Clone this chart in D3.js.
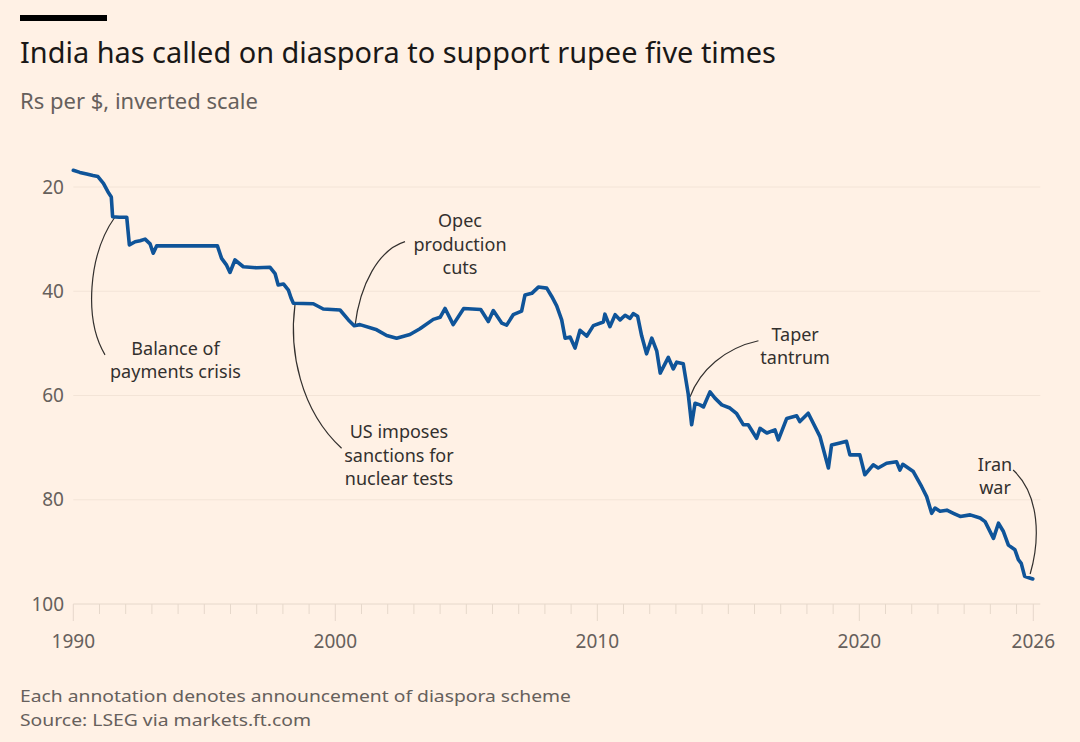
<!DOCTYPE html>
<html><head><meta charset="utf-8">
<script src="https://cdn.jsdelivr.net/npm/d3@7"></script>
<style>body{margin:0;background:#fff1e5;} svg{display:block}</style>
</head><body>
<svg id="chart" width="1080" height="742"></svg>
<script>
// ---- text ----
const title = "India has called on diaspora to support rupee five times";
const subtitle = "Rs per $, inverted scale";
const note = "Each annotation denotes announcement of diaspora scheme";
const source = "Source: LSEG via markets.ft.com";

// ---- series (decimal year, Rs per $) ----
const dates = [
 1990.00,1990.25,1990.51,1990.75,1990.94,1991.15,1991.32,1991.45,1991.50,1991.75,
 1992.04,1992.14,1992.36,1992.55,1992.74,1992.93,1993.05,1993.18,1995.50,1995.66,
 1995.85,1995.98,1996.17,1996.49,1997.00,1997.51,1997.70,1997.82,1998.02,1998.21,
 1998.32,1998.40,1999.16,1999.54,2000.18,2000.50,2000.72,2000.94,2001.58,2001.96,
 2002.34,2002.85,2003.23,2003.74,2004.00,2004.19,2004.50,2004.90,2005.55,2005.84,
 2006.03,2006.35,2006.54,2006.79,2007.11,2007.24,2007.50,2007.75,2008.07,2008.26,
 2008.45,2008.64,2008.77,2008.96,2009.15,2009.34,2009.60,2009.85,2010.23,2010.29,
 2010.48,2010.68,2010.87,2011.06,2011.25,2011.37,2011.54,2011.69,2011.88,2012.08,
 2012.27,2012.40,2012.71,2012.90,2013.03,2013.28,2013.47,2013.60,2013.73,2013.92,
 2014.05,2014.30,2014.49,2014.75,2015.06,2015.32,2015.57,2015.76,2016.08,2016.21,
 2016.47,2016.78,2016.91,2017.23,2017.61,2017.73,2018.05,2018.50,2018.82,2018.94,
 2019.26,2019.51,2019.64,2020.02,2020.21,2020.53,2020.72,2021.04,2021.42,2021.55,
 2021.66,2022.06,2022.38,2022.57,2022.76,2022.89,2023.08,2023.34,2023.59,2023.85,
 2024.23,2024.61,2024.80,2025.12,2025.31,2025.50,2025.69,2025.94,2026.07,2026.18,
 2026.31,2026.50,2026.62
];
const rates = [
 16.8,17.2,17.5,17.8,18.0,19.3,20.9,21.9,25.7,25.8,
 25.8,31.1,30.5,30.3,30.0,30.9,32.7,31.3,31.3,33.7,
 35.0,36.4,34.0,35.3,35.5,35.4,36.6,38.8,38.6,39.8,
 41.4,42.3,42.4,43.4,43.6,45.5,46.6,46.4,47.4,48.5,
 49.0,48.3,47.2,45.4,45.0,43.3,46.4,43.3,43.5,45.8,
 43.7,46.1,46.5,44.5,43.8,40.7,40.4,39.2,39.4,41.0,
 42.8,45.5,49.0,48.8,50.9,47.5,48.6,46.6,45.9,44.4,
 46.8,44.5,45.5,44.6,45.2,44.3,44.8,48.5,52.0,49.0,
 51.5,55.7,52.7,54.9,53.6,53.9,59.7,65.6,61.5,61.8,
 62.2,59.3,60.5,61.8,62.4,63.5,65.6,65.6,68.2,66.3,
 67.2,66.6,68.5,64.4,63.9,65.0,63.4,67.9,73.9,69.5,
 69.1,68.8,71.4,71.4,75.2,73.3,73.9,73.0,72.7,74.3,
 73.2,74.6,77.5,79.4,82.6,81.6,82.2,82.0,82.6,83.2,
 82.9,83.5,84.2,87.4,84.5,86.1,88.7,89.6,91.5,92.2,
 94.7,95.0,95.2
];

// ---- axes ----
const yTicks = [20, 40, 60, 80, 100];
const xMinorYears = d3.range(1990, 2027);
const xLabelYears = [1990, 2000, 2010, 2020];
const xEndLabel = "2026";
const xDomain = [1990, 2026.64];
const yDomain = [20, 100];

// ---- annotations (data units) ----
const annotations = [
  {lines:["Balance of","payments crisis"], text:[1993.9, 52.2],
   path:[[1991.59,25.76],[1990.56,33.05],[1990.41,45.52],[1991.21,52.2]]},
  {lines:["US imposes","sanctions for","nuclear tests"], text:[2002.43, 68.2],
   path:[[1998.46,42.64],[1998.23,51.27],[1998.65,62.78],[2000.24,70.13]]},
  {lines:["Opec","production","cuts"], text:[2004.76, 27.73],
   path:[[2000.75,46.67],[2000.94,38.8],[2001.63,32.09],[2002.66,30.49]]},
  {lines:["Taper","tantrum"], text:[2017.55, 49.49],
   path:[[2013.54,60.23],[2013.92,55.11],[2014.87,50.89],[2016.15,49.49]]},
  {lines:["Iran","war"], text:[2025.18, 74.43],
   path:[[2026.52,94.25],[2026.90,87.72],[2026.90,79.09],[2025.87,74.29]]}
];

// ---- drawing ----
const font = "'Noto Sans', 'Open Sans', sans-serif";
const svg = d3.select("#chart");
svg.append("rect").attr("width",1080).attr("height",742).attr("fill","#fff1e5");

const x = d3.scaleLinear().domain(xDomain).range([73.3, 1033.3]);
const y = d3.scaleLinear().domain(yDomain).range([187, 604]);

function fit(sel, target){
  const w = sel.node().getComputedTextLength();
  const fs = parseFloat(sel.attr("font-size"));
  sel.attr("font-size", (fs*target/w).toFixed(2));
}

svg.append("rect").attr("x",20).attr("y",15).attr("width",87).attr("height",6).attr("fill","#000");
const t = svg.append("text").attr("x",20).attr("y",63).attr("font-family",font)
  .attr("font-size",28).attr("fill","#1a1817").text(title);
fit(t, 756);
const st = svg.append("text").attr("x",20).attr("y",109).attr("font-family",font)
  .attr("font-size",20).attr("fill","#66605c").text(subtitle);
fit(st, 238);

// gridlines + y labels
const g = svg.append("g");
g.selectAll("line.grid").data(yTicks).join("line")
  .attr("x1", x(1990)).attr("x2", x(xDomain[1]) + 7)
  .attr("y1", d => y(d)).attr("y2", d => y(d))
  .attr("stroke", d => d === 100 ? "#e6d8cb" : "#f3e4d7").attr("stroke-width", 1);
g.selectAll("text.ylab").data(yTicks).join("text")
  .attr("x", 64).attr("y", d => y(d)).attr("dy","0.35em")
  .attr("text-anchor","end").attr("font-family",font).attr("font-size",19)
  .attr("fill","#66605c").text(d => d);

// x ticks
const tickYears = xMinorYears.concat([xDomain[1]]);
g.selectAll("line.xt").data(tickYears).join("line")
  .attr("x1", d => x(d)).attr("x2", d => x(d))
  .attr("y1", y(100))
  .attr("y2", d => (xLabelYears.includes(d) || d === xDomain[1]) ? y(100) + 17 : y(100) + 10)
  .attr("stroke","#e6d8cb").attr("stroke-width",1);
const xl = xLabelYears.map(d => ({v:d, label:String(d)})).concat([{v:xDomain[1], label:xEndLabel}]);
g.selectAll("text.xlab").data(xl).join("text")
  .attr("x", d => x(d.v)).attr("y", 648).attr("text-anchor","middle")
  .attr("font-family",font).attr("font-size",19).attr("fill","#66605c").text(d => d.label);

// annotations
const ag = svg.append("g");
annotations.forEach(a => {
  const p = a.path.map(([yr, v]) => [x(yr), y(v)]);
  const path = d3.path();
  path.moveTo(p[0][0], p[0][1]);
  path.bezierCurveTo(p[1][0], p[1][1], p[2][0], p[2][1], p[3][0], p[3][1]);
  ag.append("path").attr("d", path.toString()).attr("fill","none")
    .attr("stroke","#33302e").attr("stroke-width",1.2);
  const tx = ag.append("text").attr("x", x(a.text[0])).attr("y", y(a.text[1]))
    .attr("text-anchor","middle").attr("font-family",font).attr("font-size",18).attr("fill","#33302e");
  a.lines.forEach((l, i) => tx.append("tspan").attr("x", x(a.text[0])).attr("dy", i === 0 ? 0 : 23.3).text(l));
});

// series line
const line = d3.line().x((d, i) => x(dates[i])).y(d => y(d));
svg.append("path").attr("d", line(rates)).attr("fill","none")
  .attr("stroke","#0f5499").attr("stroke-width",3.6)
  .attr("stroke-linejoin","round").attr("stroke-linecap","round");

// footnotes
svg.append("text").attr("x",20).attr("y",702).attr("font-family",font)
  .attr("font-size",17).attr("fill","#66605c")
  .attr("textLength",551).attr("lengthAdjust","spacingAndGlyphs").text(note);
svg.append("text").attr("x",20).attr("y",726).attr("font-family",font)
  .attr("font-size",17).attr("fill","#66605c")
  .attr("textLength",291).attr("lengthAdjust","spacingAndGlyphs").text(source);
</script>
</body></html>
